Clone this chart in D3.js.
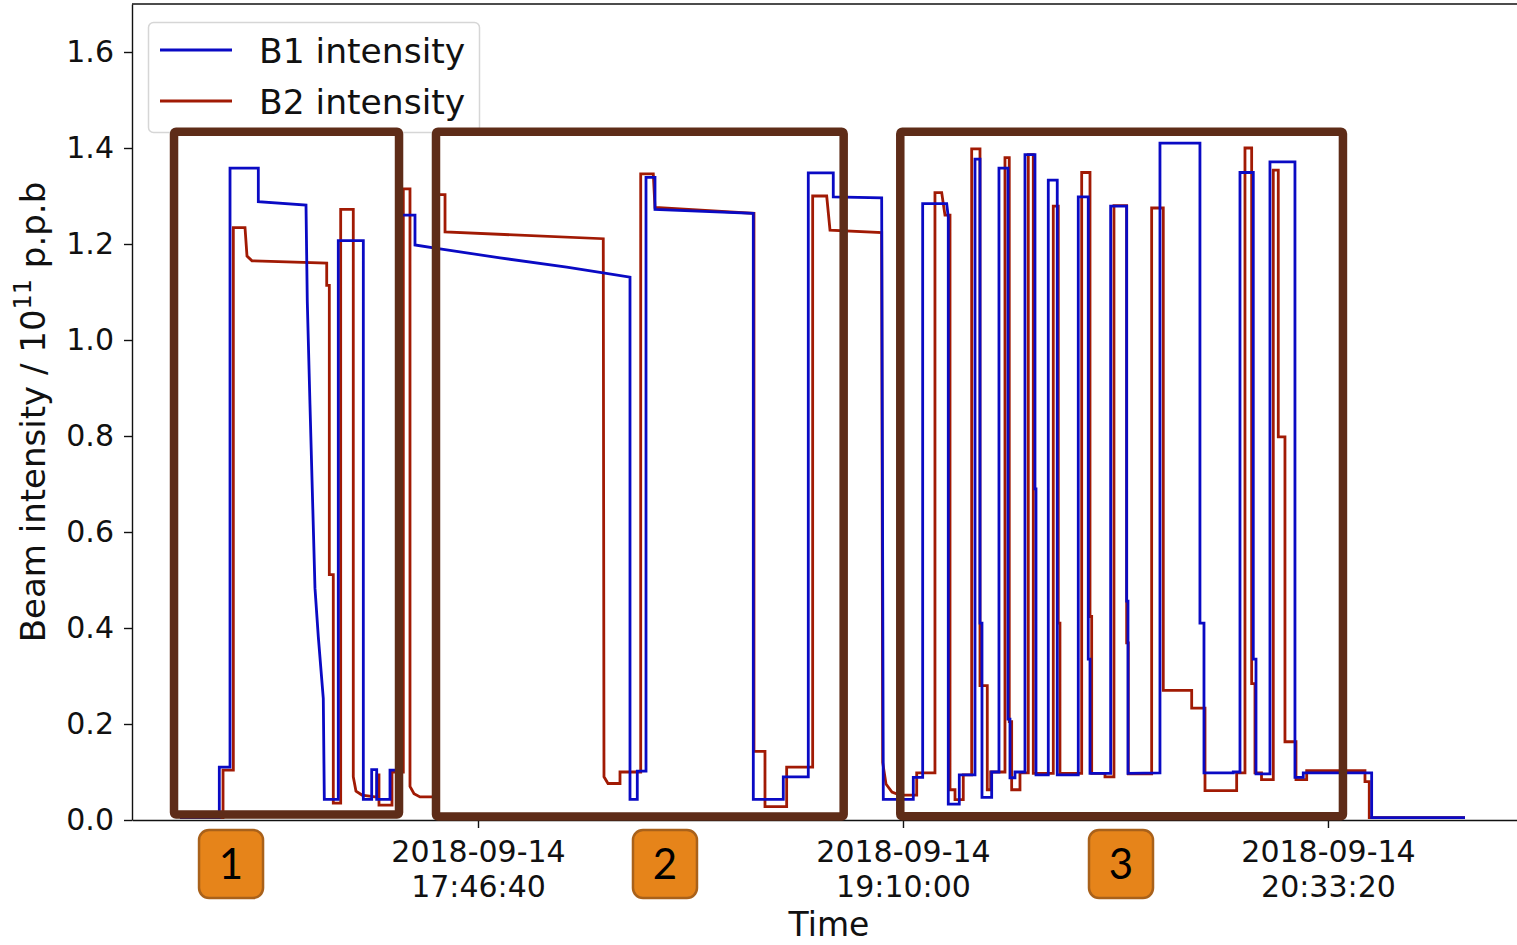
<!DOCTYPE html>
<html>
<head>
<meta charset="utf-8">
<script src="https://cdn.jsdelivr.net/npm/d3@7"></script>
<style>
  html, body { margin: 0; padding: 0; background: #fff; }
  #graphic svg { display: block; }
  .axis text { font-family: "DejaVu Sans", sans-serif; fill: #111; }
  .axis path, .axis line { stroke: #111; stroke-width: 1.4; }
</style>
</head>
<body>
<div id="graphic"><div class="chart"></div></div>
<script>
// Time is minutes after 2018-09-14 16:00:00 (UTC), intensity in 1e11 p.p.b
var b1Points = [
  [48.23, 0.005], [55.94, 0.005], [55.94, 0.11], [58.04, 0.11], [58.04, 1.358],
  [63.59, 1.358], [63.59, 1.288], [72.94, 1.281], [73.19, 1.081], [73.72, 0.865],
  [74.70, 0.483], [75.35, 0.382], [76.33, 0.253], [76.53, 0.043], [79.27, 0.043],
  [79.27, 1.207], [84.18, 1.207], [84.18, 0.043], [85.82, 0.043], [85.82, 0.105],
  [86.80, 0.105], [86.80, 0.043], [89.41, 0.043], [89.41, 0.104], [91.57, 0.104],
  [91.57, 1.26], [94.31, 1.26], [94.31, 1.198], [99.22, 1.190], [110.98, 1.171],
  [124.06, 1.152], [130.59, 1.141], [136.47, 1.131], [136.47, 0.043], [137.90, 0.043],
  [137.90, 0.102], [139.61, 0.102], [139.61, 1.339], [141.37, 1.339], [141.37, 1.272],
  [160.65, 1.264], [160.65, 0.043], [166.53, 0.043], [166.53, 0.09], [171.43, 0.09],
  [171.43, 1.348], [176.33, 1.348], [176.33, 1.298], [185.82, 1.296], [186.14, 0.043],
  [192.02, 0.043], [192.02, 0.089], [193.86, 0.089], [193.86, 1.284], [198.57, 1.284],
  [198.88, 1.256], [198.88, 0.033], [201.04, 0.033], [201.04, 0.094], [204.12, 0.094],
  [204.12, 1.377], [205.10, 1.377], [205.10, 0.41], [205.49, 0.41], [205.49, 0.047],
  [207.39, 0.047], [207.39, 0.1], [208.82, 0.1], [208.82, 1.358], [210.59, 1.358],
  [210.59, 0.21], [210.98, 0.21], [210.98, 0.088], [211.96, 0.088], [211.96, 0.1],
  [213.92, 0.1], [213.92, 1.386], [215.88, 1.386], [215.88, 0.69], [216.08, 0.69],
  [216.08, 0.094], [218.49, 0.094], [218.49, 1.333], [220.25, 1.333], [220.25, 0.094],
  [224.37, 0.094], [224.37, 1.298], [226.33, 1.298], [226.33, 0.335], [226.67, 0.335],
  [226.67, 0.097], [230.72, 0.097], [230.72, 1.279], [233.86, 1.279], [233.86, 0.456],
  [234.12, 0.456], [234.12, 0.097], [240.39, 0.098], [240.39, 1.41], [248.23, 1.41],
  [248.23, 0.41], [249.02, 0.41], [249.02, 0.098], [254.76, 0.098], [254.76, 0.1],
  [256.08, 0.1], [256.08, 1.349], [258.69, 1.349], [258.69, 0.335], [259.22, 0.335],
  [259.22, 0.096], [261.96, 0.096], [261.96, 1.371], [266.86, 1.371], [266.86, 0.089],
  [268.49, 0.089], [268.49, 0.098], [281.90, 0.098], [281.90, 0.005], [300.20, 0.005]
];

var b2Points = [
  [48.23, 0.005], [56.67, 0.005], [56.67, 0.104], [58.69, 0.104], [58.69, 1.234],
  [60.98, 1.234], [61.37, 1.175], [62.35, 1.165], [77.00, 1.160], [77.00, 1.114],
  [77.51, 1.114], [77.51, 0.511], [78.29, 0.511], [78.29, 0.035], [79.74, 0.035],
  [79.74, 1.272], [82.21, 1.272], [82.21, 0.09], [82.74, 0.06], [83.92, 0.052],
  [86.47, 0.048], [86.86, 0.048], [86.86, 0.094], [87.25, 0.094], [87.25, 0.031],
  [89.80, 0.031], [89.80, 0.1], [92.02, 0.1], [92.02, 1.315], [93.33, 1.315],
  [93.33, 0.07], [94.12, 0.055], [95.29, 0.048], [98.43, 0.048], [98.43, 1.303],
  [100.20, 1.303], [100.20, 1.225], [131.23, 1.211], [131.37, 0.09], [132.16, 0.076],
  [134.51, 0.076], [134.51, 0.1], [138.57, 0.1], [138.57, 1.346], [141.04, 1.346],
  [141.37, 1.276], [160.78, 1.264], [160.78, 0.143], [162.94, 0.143], [162.94, 0.028],
  [167.19, 0.028], [167.19, 0.11], [172.29, 0.11], [172.29, 1.30], [175.04, 1.30],
  [175.69, 1.229], [185.82, 1.224], [186.02, 0.12], [186.67, 0.075], [187.84, 0.058],
  [189.41, 0.052], [192.69, 0.052], [192.69, 0.098], [196.27, 0.098], [196.27, 1.307],
  [197.59, 1.307], [198.23, 1.26], [199.22, 1.26], [199.22, 0.063], [200.20, 0.063],
  [200.20, 0.0425], [201.82, 0.0425], [201.82, 0.094], [203.47, 0.094], [203.47, 1.398],
  [205.10, 1.398], [205.10, 0.28], [206.53, 0.28], [206.53, 0.063], [207.19, 0.063],
  [207.19, 0.1], [210.00, 0.1], [210.00, 1.38], [210.84, 1.38], [210.84, 0.205],
  [211.31, 0.205], [211.31, 0.063], [212.94, 0.063], [212.94, 0.098], [214.57, 0.098],
  [214.57, 1.386], [215.55, 1.386], [215.55, 0.097], [219.47, 0.097], [219.47, 1.279],
  [220.45, 1.279], [220.45, 0.41], [220.78, 0.41], [220.78, 0.097], [225.04, 0.097],
  [225.04, 1.349], [226.67, 1.349], [226.67, 0.424], [227.00, 0.424], [227.00, 0.097],
  [229.61, 0.097], [229.61, 0.09], [231.37, 0.09], [231.37, 1.28], [233.86, 1.28],
  [233.86, 0.369], [234.18, 0.369], [234.18, 0.096], [238.76, 0.096], [238.76, 1.275],
  [241.04, 1.275], [241.04, 0.27], [246.61, 0.27], [246.61, 0.233], [249.22, 0.233],
  [249.22, 0.061], [255.43, 0.061], [255.43, 0.098], [257.06, 0.098], [257.06, 1.40],
  [258.37, 1.40], [258.37, 0.284], [259.02, 0.284], [259.02, 0.098], [260.30, 0.098],
  [260.30, 0.084], [262.61, 0.084], [262.61, 1.354], [263.59, 1.354], [263.59, 0.798],
  [264.90, 0.798], [264.90, 0.163], [267.06, 0.163], [267.06, 0.084], [269.16, 0.084],
  [269.16, 0.103], [280.59, 0.103], [280.59, 0.08], [281.43, 0.08], [281.43, 0.005],
  [300.20, 0.005]
];

var seriesNames = ["B1 intensity", "B2 intensity"];
var seriesColors = ["#0a0ac4", "#a11a04"];
var yTicks = [0.0, 0.2, 0.4, 0.6, 0.8, 1.0, 1.2, 1.4, 1.6];
var xTickTimes = ["2018-09-14 17:46:40", "2018-09-14 19:10:00", "2018-09-14 20:33:20"];
var xDomainMinutes = [38.82, 310.4];
var yDomain = [0, 1.7];

// Highlighted periods: [start, end] in minutes, [bottom, top] in intensity
var boxTimes = [[47.06, 91.18], [98.43, 178.37], [189.47, 276.27]];
var boxLevels = [[0.0115, 1.434], [0.0073, 1.434], [0.0077, 1.434]];
var badgeLabels = ["1", "2", "3"];
var badgeMinutes = [58.24, 143.33, 232.75];

(function(window, document, d3) {
  var base = Date.UTC(2018, 8, 14, 16, 0, 0);
  function toDate(m) { return new Date(base + m * 60000); }
  var parseTick = d3.utcParse("%Y-%m-%d %H:%M:%S");

  var container = document.querySelector("#graphic");
  var chart = container.querySelector(".chart");
  chart.innerHTML = "";

  var W = 1517, H = 945;
  var plot = { left: 132, right: 1517, top: 4, bottom: 820 };

  var x = d3.scaleUtc()
      .domain(xDomainMinutes.map(toDate))
      .range([plot.left, plot.right]);

  var y = d3.scaleLinear()
      .domain(yDomain)
      .range([plot.bottom, plot.top]);

  var svg = d3.select(chart).append("svg")
      .attr("width", W)
      .attr("height", H);

  // Axes
  var yAxis = d3.axisLeft(y)
      .tickValues(yTicks)
      .tickFormat(d3.format(".1f"))
      .tickSize(8)
      .tickSizeOuter(0)
      .tickPadding(10);

  var gy = svg.append("g")
      .attr("class", "axis")
      .attr("transform", "translate(" + plot.left + ",0)")
      .call(yAxis);
  gy.selectAll("text").style("font-size", "30px");

  var xAxis = d3.axisBottom(x)
      .tickValues(xTickTimes.map(parseTick))
      .tickFormat("")
      .tickSize(8)
      .tickSizeOuter(0);

  var gx = svg.append("g")
      .attr("class", "axis")
      .attr("transform", "translate(0," + plot.bottom + ")")
      .call(xAxis);

  var dayFmt = d3.utcFormat("%Y-%m-%d"),
      timeFmt = d3.utcFormat("%H:%M:%S");

  gx.selectAll(".tick").each(function(d) {
    var t = d3.select(this).select("text")
        .attr("y", 0).attr("dy", null)
        .style("font-size", "30px")
        .attr("text-anchor", "middle");
    t.append("tspan").attr("x", 0).attr("y", 42).text(dayFmt(d));
    t.append("tspan").attr("x", 0).attr("y", 77).text(timeFmt(d));
  });

  // top spine
  svg.append("line")
      .attr("x1", plot.left).attr("x2", plot.right)
      .attr("y1", plot.top).attr("y2", plot.top)
      .attr("stroke", "#111").attr("stroke-width", 1.4);

  // Axis labels
  svg.append("text")
      .attr("x", 829).attr("y", 936)
      .attr("text-anchor", "middle")
      .style("font-family", "DejaVu Sans, sans-serif")
      .style("font-size", "33px")
      .attr("fill", "#111")
      .text("Time");

  var ylab = svg.append("text")
      .attr("transform", "translate(45,412) rotate(-90)")
      .attr("text-anchor", "middle")
      .style("font-family", "DejaVu Sans, sans-serif")
      .style("font-size", "34px")
      .attr("fill", "#111");
  ylab.append("tspan").text("Beam intensity / 10");
  ylab.append("tspan").attr("dy", -14).style("font-size", "24px").text("11");
  ylab.append("tspan").attr("dy", 14).text(" p.p.b");

  // Lines
  var line = d3.line()
      .x(function(d) { return x(toDate(d[0])); })
      .y(function(d) { return y(d[1]); });

  [b2Points, b1Points].forEach(function(pts, i) {
    svg.append("path")
        .datum(pts)
        .attr("fill", "none")
        .attr("stroke", i === 0 ? seriesColors[1] : seriesColors[0])
        .attr("stroke-width", 2.8)
        .attr("stroke-linejoin", "miter")
        .attr("d", line);
  });

  // Legend
  var legend = svg.append("g").attr("class", "legend");
  legend.append("rect")
      .attr("x", 148.5).attr("y", 22.5)
      .attr("width", 331).attr("height", 110)
      .attr("rx", 5)
      .attr("fill", "#fff").attr("fill-opacity", 0.8)
      .attr("stroke", "#d6d6d6").attr("stroke-width", 1.5);

  seriesNames.forEach(function(name, i) {
    var ly = 50 + i * 51;
    legend.append("line")
        .attr("x1", 160).attr("x2", 232)
        .attr("y1", ly).attr("y2", ly)
        .attr("stroke", seriesColors[i]).attr("stroke-width", 2.8);
    legend.append("text")
        .attr("x", 259).attr("y", ly + 12.5)
        .style("font-family", "DejaVu Sans, sans-serif")
        .style("font-size", "34.5px")
        .attr("fill", "#111")
        .text(name);
  });

  // Highlight boxes
  svg.append("g").attr("class", "boxes")
    .selectAll("rect")
      .data(boxTimes)
    .enter().append("rect")
      .attr("x", function(d) { return x(toDate(d[0])); })
      .attr("width", function(d) { return x(toDate(d[1])) - x(toDate(d[0])); })
      .attr("y", function(d, i) { return y(boxLevels[i][1]); })
      .attr("height", function(d, i) { return y(boxLevels[i][0]) - y(boxLevels[i][1]); })
      .attr("rx", 2)
      .attr("fill", "none")
      .attr("stroke", "#5e2c18")
      .attr("stroke-width", 8.5);

  // Numbered badges
  var badges = svg.append("g").attr("class", "badges")
    .selectAll("g")
      .data(badgeLabels)
    .enter().append("g")
      .attr("transform", function(d, i) {
        return "translate(" + x(toDate(badgeMinutes[i])) + ",864)";
      });

  badges.append("rect")
      .attr("x", -32).attr("y", -34)
      .attr("width", 64).attr("height", 68)
      .attr("rx", 10)
      .attr("fill", "#e6841a")
      .attr("stroke", "#a9611a")
      .attr("stroke-width", 2.5);

  badges.append("text")
      .attr("text-anchor", "middle")
      .attr("y", 15)
      .style("font-family", "Lato, sans-serif")
      .style("font-size", "42px")
      .attr("fill", "#000")
      .text(function(d) { return d; });

})(window, document, d3);
</script>
</body>
</html>
